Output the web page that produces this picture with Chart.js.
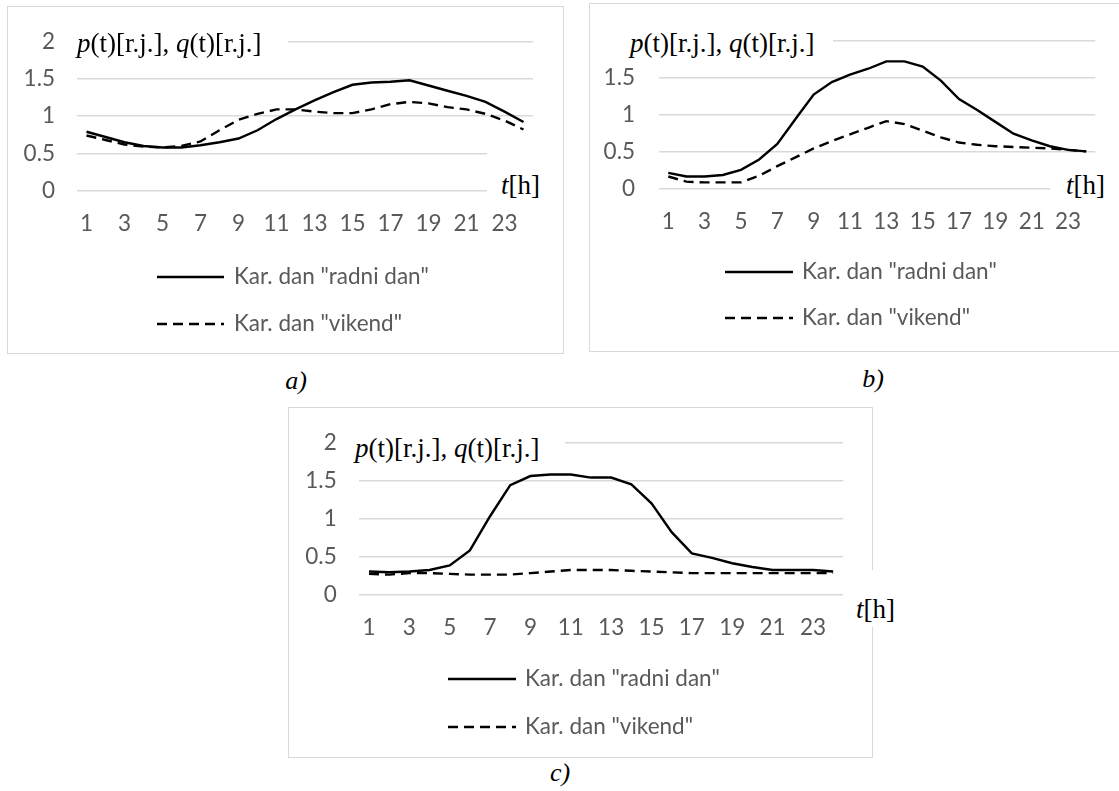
<!DOCTYPE html>
<html>
<head>
<meta charset="utf-8">
<script src="https://cdn.jsdelivr.net/npm/chart.js@4.4.0/dist/chart.umd.min.js"></script>
<style>
  html, body { margin:0; padding:0; background:#fff; overflow:hidden; }
  body { width:1119px; height:791px; position:relative; }
  .frame { position:absolute; border:1.5px solid #d9d9d9; box-sizing:border-box; }
  canvas { position:absolute; }
  .mask { position:absolute; background:#fff; }
  .serif { position:absolute; font-family:"Liberation Serif","Times New Roman",serif; font-size:27px; color:#000; white-space:nowrap; line-height:1; transform:translateY(-50%); }
  .cap { position:absolute; font-family:"Liberation Serif","Times New Roman",serif; font-style:italic; font-size:26px; line-height:1; transform:translate(-50%,-50%); }
</style>
</head>
<body>
<div class="frame" style="left:7px;top:6px;width:557px;height:348px"></div>
<div class="frame" style="left:589px;top:3px;width:540px;height:349px"></div>
<div class="frame" style="left:288px;top:407px;width:585px;height:351px"></div>

<canvas id="chartA" width="557" height="348" style="left:7px;top:6px"></canvas>
<canvas id="chartB" width="535" height="349" style="left:589px;top:3px"></canvas>
<canvas id="chartC" width="585" height="351" style="left:288px;top:407px"></canvas>

<!-- tekstualni okviri (bijela pozadina prekriva mrezu kao u Excelu) -->
<div class="mask" style="left:77px;top:28px;width:211px;height:30px"></div>
<div class="mask" style="left:615px;top:26px;width:218px;height:32px"></div>
<div class="mask" style="left:352px;top:432px;width:213px;height:32px"></div>
<div class="mask" style="left:487px;top:143px;width:60px;height:60px"></div>
<div class="mask" style="left:1050px;top:162px;width:62px;height:44px"></div>
<div class="mask" style="left:845px;top:570px;width:58px;height:57px"></div>

<div class="serif" style="left:77px;top:43px"><i>p</i>(t)[r.j.], <i>q</i>(t)[r.j.]</div>
<div class="serif" style="left:630px;top:43px"><i>p</i>(t)[r.j.], <i>q</i>(t)[r.j.]</div>
<div class="serif" style="left:355px;top:448px"><i>p</i>(t)[r.j.], <i>q</i>(t)[r.j.]</div>
<div class="serif" style="left:501px;top:185px"><i>t</i>[h]</div>
<div class="serif" style="left:1066px;top:185px"><i>t</i>[h]</div>
<div class="serif" style="left:856px;top:609px"><i>t</i>[h]</div>

<div class="cap" style="left:296px;top:381px">a)</div>
<div class="cap" style="left:873px;top:379px">b)</div>
<div class="cap" style="left:560px;top:773px">c)</div>

<script>
// sati 1..24
const hours = ['1','2','3','4','5','6','7','8','9','10','11','12','13','14','15','16','17','18','19','20','21','22','23','24'];

// a)
const radniA  = [0.79,0.72,0.65,0.60,0.58,0.58,0.61,0.65,0.70,0.81,0.96,1.09,1.21,1.32,1.42,1.45,1.46,1.48,1.41,1.34,1.27,1.19,1.06,0.92];
const vikendA = [0.74,0.68,0.62,0.59,0.58,0.60,0.66,0.81,0.95,1.03,1.09,1.09,1.06,1.04,1.04,1.09,1.16,1.19,1.17,1.12,1.09,1.03,0.94,0.82];

// b)
const radniB  = [0.21,0.16,0.16,0.18,0.25,0.39,0.60,0.94,1.27,1.44,1.54,1.62,1.72,1.72,1.65,1.46,1.21,1.06,0.90,0.74,0.65,0.57,0.52,0.50];
const vikendB = [0.16,0.09,0.08,0.08,0.08,0.17,0.30,0.42,0.54,0.64,0.73,0.82,0.91,0.87,0.78,0.69,0.62,0.59,0.57,0.56,0.55,0.54,0.52,0.50];

// c)
const radniC  = [0.30,0.29,0.30,0.32,0.38,0.58,1.03,1.44,1.56,1.58,1.58,1.54,1.54,1.45,1.20,0.82,0.54,0.48,0.41,0.36,0.32,0.32,0.32,0.30];
const vikendC = [0.27,0.26,0.28,0.28,0.27,0.26,0.26,0.26,0.28,0.30,0.32,0.32,0.32,0.31,0.30,0.29,0.28,0.28,0.28,0.28,0.28,0.28,0.28,0.28];

const yTicks = [0, 0.5, 1, 1.5, 2];
const seriesNames = ['Kar. dan "radni dan"', 'Kar. dan "vikend"'];

const FONT = 'Lato';
const FSIZE = 22.5;
const TXT = '#595959';
const GRID = '#d9d9d9';

Chart.defaults.font.family = FONT;
Chart.defaults.font.size = FSIZE;
Chart.defaults.color = TXT;

// legenda jedna ispod druge
const stackedLegend = {
  id: 'stackedLegend',
  afterDraw(chart, args, opts) {
    const ctx = chart.ctx;
    ctx.save();
    chart.data.datasets.forEach((ds, i) => {
      const y = opts.rows[i];
      ctx.beginPath();
      ctx.setLineDash(ds.borderDash || []);
      ctx.lineWidth = ds.borderWidth;
      ctx.strokeStyle = ds.borderColor;
      ctx.moveTo(opts.x0, y);
      ctx.lineTo(opts.x1, y);
      ctx.stroke();
      ctx.setLineDash([]);
      ctx.fillStyle = TXT;
      ctx.font = FSIZE + 'px ' + FONT;
      ctx.textBaseline = 'middle';
      ctx.fillText(ds.label, opts.textX, y);
    });
    ctx.restore();
  }
};

function makeChart(id, radni, vikend, lay) {
  return new Chart(document.getElementById(id), {
    type: 'line',
    data: {
      labels: hours,
      datasets: [
        {label: seriesNames[0], data: radni, borderColor:'#000', borderWidth:2.4, pointRadius:0, tension:0, fill:false},
        {label: seriesNames[1], data: vikend, borderColor:'#000', borderWidth:2.4, borderDash:[10,6], pointRadius:0, tension:0, fill:false}
      ]
    },
    options: {
      responsive: false,
      animation: false,
      layout: {padding: {left:0, top:lay.top, right:lay.right, bottom:lay.bottom}},
      plugins: {
        legend: {display:false},
        tooltip: {enabled:false},
        stackedLegend: lay.legend
      },
      scales: {
        x: {
          offset: true,
          grid: {display:false, offset:true},
          border: {display:false},
          ticks: {
            autoSkip: false, maxRotation: 0, padding: lay.xPad,
            callback: (v, i) => (i % 2 === 0 ? hours[i] : '')
          },
          afterFit: s => { s.height = 60; }
        },
        y: {
          min: 0, max: 2,
          afterBuildTicks: s => { s.ticks = yTicks.map(v => ({value: v})); },
          grid: {color: GRID, lineWidth: 1.6, drawTicks: false},
          border: {display:false},
          ticks: {padding: lay.yPad, callback: v => String(v)},
          afterFit: s => { s.width = lay.yWidth; }
        }
      }
    },
    plugins: [stackedLegend]
  });
}

makeChart('chartA', radniA, vikendA, {
  top: 29, right: 31, bottom: 348 - 184.7 - 60, yWidth: 70, yPad: 22, xPad: 11.5,
  legend: {x0: 150, x1: 217, textX: 227, rows: [271, 318]}
});
makeChart('chartB', radniB, vikendB, {
  top: 29.9, right: 28.7, bottom: 349 - 185.3 - 60, yWidth: 70.2, yPad: 24.2, xPad: 12,
  legend: {x0: 136, x1: 204, textX: 213, rows: [269, 315]}
});
makeChart('chartC', radniC, vikendC, {
  top: 29.7, right: 29.8, bottom: 351 - 187.3 - 60, yWidth: 70.9, yPad: 22.2, xPad: 11.5,
  legend: {x0: 160, x1: 228, textX: 237, rows: [272, 320]}
});
</script>
</body>
</html>
